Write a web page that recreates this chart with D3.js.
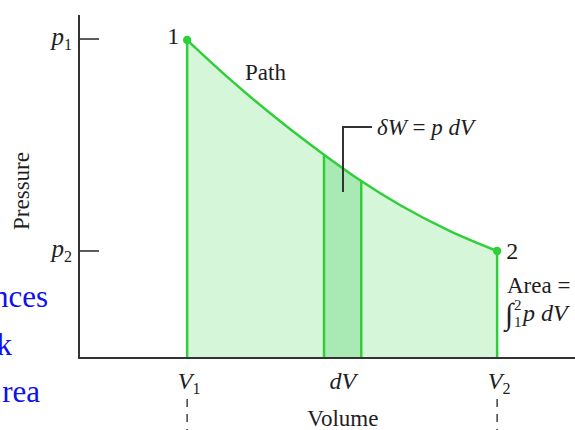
<!DOCTYPE html>
<html>
<head>
<meta charset="utf-8">
<script src="https://cdn.jsdelivr.net/npm/d3@7"></script>
<style>
  html, body { margin: 0; padding: 0; background: #fff; }
  svg { display: block; }
  text { font-family: "Liberation Serif", "DejaVu Serif", serif; fill: #1e1e1e; }
</style>
</head>
<body>
<svg id="chart" width="575" height="430"></svg>
<script>
// Expansion path from state 1 to state 2 (volume, pressure in arbitrary units)
const pathVolume   = [2.18, 3.04, 4.05, 4.92, 5.69, 6.47, 7.48, 8.43];
const pathPressure = [9.27, 8.13, 6.91, 5.95, 5.16, 4.46, 3.70, 3.12];
// Thin strip dV under the path
const stripVolume = [4.94, 5.69];
// Axis tick labels
const pressureTicks = [{ v: 9.3, base: "p", sub: "1" }, { v: 3.12, base: "p", sub: "2" }];
const volumeTicks = [{ v: 2.18, base: "V", sub: "1" }, { v: 5.32, base: "dV", sub: "" }, { v: 8.43, base: "V", sub: "2" }];

const svg = d3.select("#chart");
const x = d3.scaleLinear().domain([0, 10]).range([79, 575]);
const y = d3.scaleLinear().domain([0, 10]).range([358, 15]);

const GREEN = "#2fcf3a";
const FILL = "#d6f6d9";
const STRIP = "#a9eab4";

const pts = pathVolume.map((v, i) => [v, pathPressure[i]]);
const curve = d3.curveMonotoneX;

// interpolate the path pressure at a given volume (for the strip top)
const probe = d3.line().x(d => x(d[0])).y(d => y(d[1])).curve(curve);
const tmp = svg.append("path").attr("d", probe(pts)).attr("fill", "none").attr("stroke", "none");
const node = tmp.node();
const total = node.getTotalLength();
function yAtX(px) {
  let lo = 0, hi = total;
  for (let k = 0; k < 40; k++) {
    const mid = (lo + hi) / 2;
    if (node.getPointAtLength(mid).x < px) lo = mid; else hi = mid;
  }
  return node.getPointAtLength((lo + hi) / 2).y;
}
tmp.remove();

// shaded area under the path
const area = d3.area().x(d => x(d[0])).y0(y(0)).y1(d => y(d[1])).curve(curve);
svg.append("path").attr("d", area(pts)).attr("fill", FILL);

// dV strip
const sx0 = x(stripVolume[0]), sx1 = x(stripVolume[1]);
const stripPts = d3.range(0, 21).map(i => {
  const px = sx0 + (sx1 - sx0) * i / 20;
  return [px, yAtX(px)];
});
svg.append("path")
  .attr("d", d3.area().x(d => d[0]).y0(y(0)).y1(d => d[1])(stripPts))
  .attr("fill", STRIP);
stripVolume.forEach(v => {
  svg.append("line")
    .attr("x1", x(v)).attr("x2", x(v))
    .attr("y1", y(0)).attr("y2", yAtX(x(v)))
    .attr("stroke", GREEN).attr("stroke-width", 2.5);
});

// vertical edges at V1 and V2
[pts[0], pts[pts.length - 1]].forEach(d => {
  svg.append("line")
    .attr("x1", x(d[0])).attr("x2", x(d[0]))
    .attr("y1", y(0)).attr("y2", y(d[1]))
    .attr("stroke", GREEN).attr("stroke-width", 2.5);
});

// the path itself
svg.append("path").attr("d", probe(pts))
  .attr("fill", "none").attr("stroke", GREEN).attr("stroke-width", 2.5);

// end-state dots
[pts[0], pts[pts.length - 1]].forEach(d => {
  svg.append("circle").attr("cx", x(d[0])).attr("cy", y(d[1])).attr("r", 4.2).attr("fill", GREEN);
});

// axes
svg.append("line").attr("x1", x(0)).attr("x2", x(0)).attr("y1", 15).attr("y2", y(0))
  .attr("stroke", "#333").attr("stroke-width", 2);
svg.append("line").attr("x1", x(0) - 1).attr("x2", 575).attr("y1", y(0)).attr("y2", y(0))
  .attr("stroke", "#333").attr("stroke-width", 2);

// pressure ticks
pressureTicks.forEach(t => {
  svg.append("line").attr("x1", x(0)).attr("x2", x(0) + 20)
    .attr("y1", y(t.v)).attr("y2", y(t.v)).attr("stroke", "#333").attr("stroke-width", 1.6);
  const tx = svg.append("text").attr("x", 72).attr("y", y(t.v) + 6)
    .attr("text-anchor", "end").style("font-size", "25px");
  tx.append("tspan").style("font-style", "italic").text(t.base);
  tx.append("tspan").attr("dy", 5).style("font-size", "16px").text(t.sub);
});

// volume tick labels
volumeTicks.forEach(t => {
  const tx = svg.append("text").attr("x", x(t.v) + (t.sub ? 2 : 0)).attr("y", 389)
    .attr("text-anchor", "middle").style("font-size", "24px");
  tx.append("tspan").style("font-style", "italic").text(t.base);
  if (t.sub) tx.append("tspan").attr("dy", 5).style("font-size", "16px").text(t.sub);
});

// dashed guides under V1 and V2
[pathVolume[0], pathVolume[pathVolume.length - 1]].forEach(v => {
  svg.append("line").attr("x1", x(v)).attr("x2", x(v)).attr("y1", 399).attr("y2", 430)
    .attr("stroke", "#333").attr("stroke-width", 1.4).attr("stroke-dasharray", "8,7");
});

// axis titles
svg.append("text").attr("x", x(5.32)).attr("y", 426).attr("text-anchor", "middle")
  .style("font-size", "23px").text("Volume");
svg.append("text").attr("transform", "translate(29,191) rotate(-90)").attr("text-anchor", "middle")
  .style("font-size", "23px").text("Pressure");

// state labels
svg.append("text").attr("x", x(pathVolume[0]) - 8).attr("y", y(pathPressure[0]) + 4)
  .attr("text-anchor", "end").style("font-size", "24px").text("1");
const last = pts[pts.length - 1];
svg.append("text").attr("x", x(last[0]) + 9).attr("y", y(last[1]) + 8)
  .style("font-size", "24px").text("2");
svg.append("text").attr("x", 245).attr("y", 80).style("font-size", "23px").text("Path");

// work element annotation
svg.append("path").attr("d", "M343,192 V127 H372")
  .attr("fill", "none").attr("stroke", "#333").attr("stroke-width", 2);
const dw = svg.append("text").attr("x", 377).attr("y", 135).style("font-size", "23px").style("font-style", "italic");
dw.append("tspan").text("δW");
dw.append("tspan").style("font-style", "normal").text(" = ");
dw.append("tspan").text("p dV");

// area label: integral sign with stacked limits
svg.append("text").attr("x", 507).attr("y", 293).style("font-size", "23px").text("Area =");
svg.append("text").attr("x", 505).attr("y", 324).style("font-size", "30px").text("∫");
svg.append("text").attr("x", 514).attr("y", 310).style("font-size", "15px").text("2");
svg.append("text").attr("x", 514).attr("y", 327).style("font-size", "15px").text("1");
svg.append("text").attr("x", 523).attr("y", 321).style("font-size", "24px").style("font-style", "italic").text("p dV");

// slide text at the left edge
const blue = [{ t: "nces", x: 48, y: 307 }, { t: "k", x: 12, y: 355 }, { t: "rea", x: 40, y: 402 }];
blue.forEach(b => {
  svg.append("text").attr("x", b.x).attr("y", b.y).attr("text-anchor", "end")
    .style("font-size", "31px").style("fill", "#1010ee").text(b.t);
});
</script>
</body>
</html>
